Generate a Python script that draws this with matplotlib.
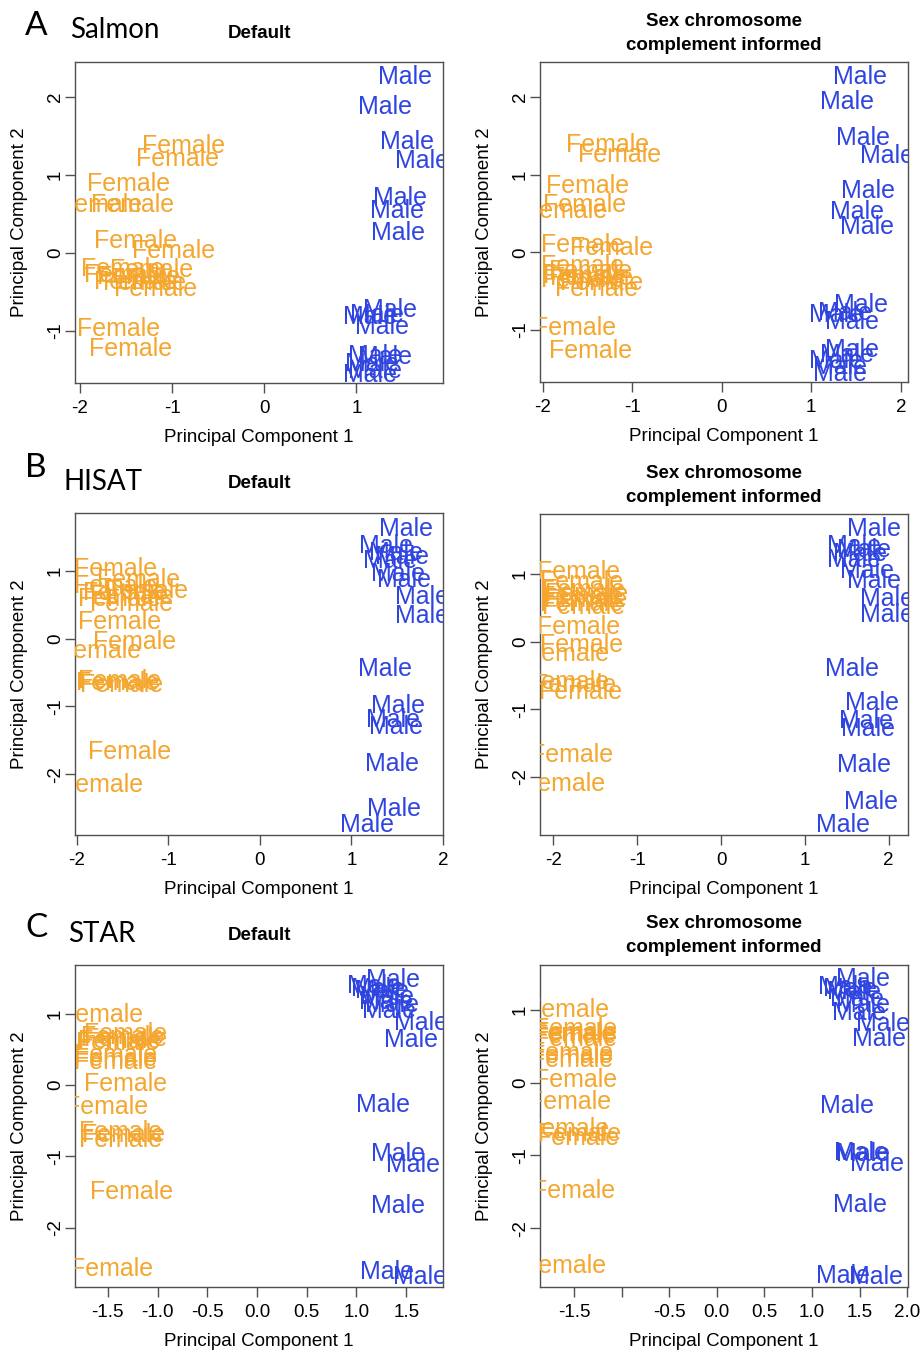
import matplotlib
matplotlib.use("Agg")
import matplotlib.pyplot as plt
from matplotlib.transforms import offset_copy

W, H = 922, 1350

female_col = "#F4A62E"
male_col = "#2F45E0"

# ---- data (PC1, PC2 for each sample) ----
salmon_def_f_x = [-0.88, -0.94, -1.47, -1.43, -1.78, -1.40, -0.98, -1.54, -1.22, -1.36, -1.40, -1.30, -1.18, -1.58, -1.45, -1.50]
salmon_def_f_y = [1.41, 1.24, 0.92, 0.65, 0.65, 0.19, 0.05, -0.18, -0.19, -0.28, -0.34, -0.36, -0.43, -0.94, -1.20, -0.25]
salmon_def_m_x = [1.53, 1.31, 1.55, 1.71, 1.47, 1.44, 1.45, 1.37, 1.15, 1.22, 1.28, 1.31, 1.20, 1.17, 1.20, 1.15]
salmon_def_m_y = [2.29, 1.90, 1.46, 1.21, 0.74, 0.57, 0.29, -0.70, -0.79, -0.77, -0.92, -1.31, -1.29, -1.40, -1.48, -1.54]

salmon_scc_f_x = [-1.27, -1.14, -1.50, -1.53, -1.75, -1.56, -1.23, -1.56, -1.47, -1.53, -1.55, -1.34, -1.40, -1.64, -1.47, -1.45]
salmon_scc_f_y = [1.41, 1.28, 0.89, 0.64, 0.57, 0.13, 0.09, -0.15, -0.21, -0.27, -0.32, -0.36, -0.44, -0.94, -1.24, -0.30]
salmon_scc_m_x = [1.54, 1.40, 1.58, 1.84, 1.63, 1.51, 1.62, 1.56, 1.28, 1.38, 1.46, 1.45, 1.40, 1.28, 1.32, 1.32]
salmon_scc_m_y = [2.29, 1.97, 1.50, 1.27, 0.82, 0.55, 0.36, -0.64, -0.77, -0.75, -0.86, -1.22, -1.29, -1.37, -1.45, -1.53]

hisat_def_f_x = [-1.58, -1.33, -1.58, -1.48, -1.24, -1.40, -1.40, -1.53, -1.53, -1.37, -1.75, -1.53, -1.51, -1.56, -1.42, -1.73]
hisat_def_f_y = [1.07, 0.90, 0.82, 0.72, 0.75, 0.67, 0.55, 0.62, 0.28, -0.01, -0.14, -0.58, -0.65, -0.62, -1.64, -2.13]
hisat_def_m_x = [1.60, 1.38, 1.49, 1.55, 1.42, 1.51, 1.57, 1.77, 1.77, 1.37, 1.51, 1.45, 1.49, 1.44, 1.47, 1.17]
hisat_def_m_y = [1.66, 1.41, 1.31, 1.24, 1.19, 0.99, 0.90, 0.65, 0.38, -0.41, -0.95, -1.17, -1.27, -1.82, -2.48, -2.72]

hisat_scc_f_x = [-1.70, -1.66, -1.64, -1.60, -1.66, -1.62, -1.64, -1.70, -1.66, -1.83, -1.83, -1.75, -1.68, -1.78, -1.88, -1.66]
hisat_scc_f_y = [1.07, 0.92, 0.80, 0.75, 0.70, 0.65, 0.55, 0.25, -0.01, -0.14, -0.56, -0.61, -0.71, -1.64, -2.07, 0.60]
hisat_scc_m_x = [1.82, 1.58, 1.70, 1.66, 1.58, 1.74, 1.82, 1.98, 1.98, 1.56, 1.80, 1.73, 1.75, 1.71, 1.79, 1.45]
hisat_scc_m_y = [1.70, 1.46, 1.39, 1.33, 1.25, 1.09, 0.94, 0.67, 0.43, -0.37, -0.87, -1.14, -1.25, -1.79, -2.33, -2.68]

star_def_f_x = [-1.56, -1.32, -1.35, -1.32, -1.38, -1.40, -1.42, -1.42, -1.42, -1.32, -1.51, -1.37, -1.34, -1.37, -1.26, -1.46]
star_def_f_y = [1.02, 0.75, 0.70, 0.68, 0.65, 0.62, 0.46, 0.40, 0.35, 0.05, -0.27, -0.63, -0.67, -0.74, -1.47, -2.54]
star_def_m_x = [1.37, 1.18, 1.26, 1.31, 1.36, 1.33, 1.65, 1.55, 1.27, 1.42, 1.57, 1.42, 1.31, 1.64, 1.22, 1.30]
star_def_m_y = [1.51, 1.42, 1.35, 1.26, 1.16, 1.07, 0.90, 0.67, -0.25, -0.93, -1.09, -1.66, -2.59, -2.66, 1.38, 1.20]

star_scc_f_x = [-1.57, -1.49, -1.49, -1.50, -1.49, -1.53, -1.53, -1.53, -1.49, -1.55, -1.57, -1.44, -1.46, -1.51, -1.60, -1.51]
star_scc_f_y = [1.03, 0.77, 0.72, 0.68, 0.64, 0.45, 0.40, 0.35, 0.07, -0.23, -0.60, -0.67, -0.72, -1.45, -2.48, 0.70]
star_scc_m_x = [1.54, 1.35, 1.44, 1.47, 1.54, 1.49, 1.75, 1.70, 1.37, 1.52, 1.54, 1.68, 1.51, 1.33, 1.67, 1.40]
star_scc_m_y = [1.46, 1.35, 1.28, 1.19, 1.10, 1.00, 0.84, 0.63, -0.28, -0.93, -0.95, -1.08, -1.65, -2.62, -2.64, 1.32]

# axis ranges and ticks
xlims = [(-2.054, 1.94), (-2.03, 2.08), (-2.02, 2.0), (-2.16, 2.23), (-1.83, 1.87), (-1.86, 2.01)]
ylims = [(-1.67, 2.45), (-1.67, 2.45), (-2.90, 1.86), (-2.86, 1.89), (-2.83, 1.68), (-2.81, 1.62)]
xticks = [[-2, -1, 0, 1], [-2, -1, 0, 1, 2], [-2, -1, 0, 1, 2], [-2, -1, 0, 1, 2],
          [-1.5, -1.0, -0.5, 0.0, 0.5, 1.0, 1.5], [-1.5, -1.0, -0.5, 0.0, 0.5, 1.0, 1.5, 2.0]]
xticklabels = [["-2", "-1", "0", "1"], ["-2", "-1", "0", "1", "2"], ["-2", "-1", "0", "1", "2"],
               ["-2", "-1", "0", "1", "2"],
               ["-1.5", "-1.0", "-0.5", "0.0", "0.5", "1.0", "1.5"],
               ["-1.5", "", "-0.5", "0.0", "0.5", "1.0", "1.5", "2.0"]]
yticks = [[-1, 0, 1, 2], [-1, 0, 1, 2], [-2, -1, 0, 1], [-2, -1, 0, 1], [-2, -1, 0, 1], [-2, -1, 0, 1]]

panels = [
    (salmon_def_f_x, salmon_def_f_y, salmon_def_m_x, salmon_def_m_y),
    (salmon_scc_f_x, salmon_scc_f_y, salmon_scc_m_x, salmon_scc_m_y),
    (hisat_def_f_x, hisat_def_f_y, hisat_def_m_x, hisat_def_m_y),
    (hisat_scc_f_x, hisat_scc_f_y, hisat_scc_m_x, hisat_scc_m_y),
    (star_def_f_x, star_def_f_y, star_def_m_x, star_def_m_y),
    (star_scc_f_x, star_scc_f_y, star_scc_m_x, star_scc_m_y),
]

letters = ["A", "B", "C"]
aligners = ["Salmon", "HISAT", "STAR"]
# pixel positions of the row headers (left x, baseline y)
letter_pos = [(36, 35), (36, 477), (36, 937)]
aligner_pos = [(70, 38), (63, 490), (68, 942)]

# pixel boxes of the plot regions (x0, y0, x1, y1)
boxes = [(75, 62, 443, 383), (540, 62, 908, 382),
         (75, 513, 443, 835), (540, 514, 908, 835),
         (75, 965, 443, 1287), (540, 965, 908, 1287)]

plt.rcParams['font.family'] = ['Liberation Sans', 'DejaVu Sans']
fig = plt.figure(figsize=(W / 100, H / 100), dpi=100)

edge = "#505050"
for i, (fx, fy, mx, my) in enumerate(panels):
    x0, y0, x1, y1 = boxes[i]
    ax = fig.add_axes([x0 / W, 1 - y1 / H, (x1 - x0) / W, (y1 - y0) / H])
    ax.set_xlim(*xlims[i])
    ax.set_ylim(*ylims[i])
    # R centres labels on the glyph body, matplotlib on the full line box
    tr = offset_copy(ax.transData, fig=fig, y=-2.5, units="dots")
    for x, y in zip(fx, fy):
        ax.text(x, y, "Female", color=female_col, fontsize=18, ha="center", va="center",
                transform=tr, clip_on=True)
    for x, y in zip(mx, my):
        ax.text(x, y, "Male", color=male_col, fontsize=18, ha="center", va="center",
                transform=tr, clip_on=True)
    ax.set_xticks(xticks[i])
    ax.set_xticklabels(xticklabels[i])
    ax.set_yticks(yticks[i])
    ax.set_yticklabels([str(v) for v in yticks[i]])
    ax.tick_params(direction="out", length=7, width=1, color=edge, labelsize=13.5, pad=5)
    ax.tick_params(axis="y", pad=1)
    for lbl in ax.get_yticklabels():
        lbl.set_rotation(90)
        lbl.set_va("center")
    for s in ax.spines.values():
        s.set_color(edge)
        s.set_linewidth(1)
    ax.set_xlabel("Principal Component 1", fontsize=13.5)
    ax.set_ylabel("Principal Component 2", fontsize=13.5)
    ax.xaxis.set_label_coords(0.5, -46 / (y1 - y0))
    ax.yaxis.set_label_coords(-47 / (x1 - x0), 0.5)

    cx = (x0 + x1) / 2 / W
    if i % 2 == 0:
        r = i // 2
        fig.text(cx, 1 - (y0 - 29) / H, "Default", fontsize=13.5, fontweight="bold", ha="center", va="center")
        lx, ly = letter_pos[r]
        fig.text(lx / W, 1 - ly / H, letters[r], fontsize=24, family="Lato", ha="center", va="baseline")
        ax_, ay_ = aligner_pos[r]
        fig.text(ax_ / W, 1 - ay_ / H, aligners[r], fontsize=20, family="Lato", ha="left", va="baseline")
    else:
        fig.text(cx, 1 - (y0 - 41) / H, "Sex chromosome", fontsize=13.5, fontweight="bold", ha="center", va="center")
        fig.text(cx, 1 - (y0 - 17) / H, "complement informed", fontsize=13.5, fontweight="bold", ha="center", va="center")

fig.savefig("out.png", dpi=100)
